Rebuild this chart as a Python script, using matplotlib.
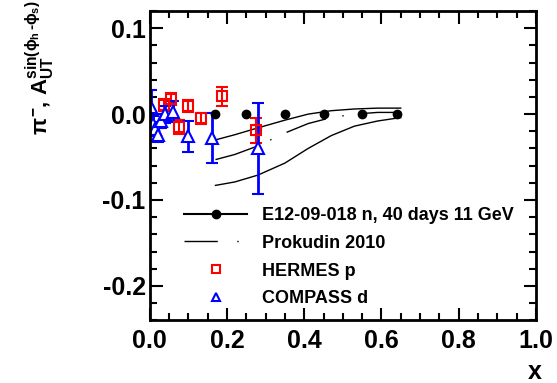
import matplotlib
matplotlib.use("Agg")
import matplotlib.pyplot as plt
from matplotlib.lines import Line2D
from matplotlib.ticker import MultipleLocator

plt.rcParams["font.family"] = ["Liberation Sans", "DejaVu Sans"]
plt.rcParams["font.weight"] = "bold"
plt.rcParams["mathtext.fontset"] = "custom"
plt.rcParams["mathtext.rm"] = "Liberation Sans:bold"
plt.rcParams["mathtext.it"] = "Liberation Sans:bold"
plt.rcParams["mathtext.bf"] = "Liberation Sans:bold"

# E12-09-018 projected points (all at zero)
e12_x = [0.17, 0.25, 0.35, 0.45, 0.55, 0.64]
e12_y = [0.0, 0.0, 0.0, 0.0, 0.0, 0.0]

# Prokudin 2010 curves: upper, central, lower
prok_x = [0.17, 0.22, 0.28, 0.35, 0.41, 0.47, 0.53, 0.59, 0.65]
prok_up = [-0.030, -0.024, -0.016, -0.007, 0.000, 0.004, 0.006, 0.007, 0.007]
prok_mid = [-0.053, -0.047, -0.037, -0.022, -0.011, -0.004, 0.000, 0.002, 0.002]
prok_low = [-0.083, -0.079, -0.071, -0.057, -0.040, -0.025, -0.014, -0.008, -0.004]

# HERMES proton
hermes_x = [0.036, 0.056, 0.076, 0.098, 0.133, 0.186, 0.275]
hermes_y = [0.011, 0.018, -0.015, 0.010, -0.005, 0.021, -0.019]
hermes_err = [0.007, 0.007, 0.008, 0.007, 0.006, 0.011, 0.015]

# COMPASS deuteron
compass_x = [0.004, 0.008, 0.013, 0.020, 0.030, 0.040, 0.060, 0.100, 0.160, 0.280]
compass_y = [0.008, -0.012, -0.017, -0.024, -0.008, 0.000, 0.003, -0.026, -0.028, -0.040]
compass_err = [0.020, 0.010, 0.008, 0.008, 0.008, 0.010, 0.012, 0.018, 0.029, 0.053]

fig = plt.figure(figsize=(5.57, 3.83), dpi=100)
ax = fig.add_axes([0.269, 0.164, 0.693, 0.807])

ax.plot(prok_x, prok_up, color="black", lw=1.0)
ax.plot(prok_x, prok_low, color="black", lw=1.0)
mid, = ax.plot(prok_x, prok_mid, color="black", lw=1.0)
mid.set_dashes([30, 12, 1, 12])

ax.plot(e12_x, e12_y, "o", color="black", ms=6, zorder=4)

ax.errorbar(hermes_x, hermes_y, yerr=hermes_err, fmt="s", ms=7, mfc="none",
            mec="red", mew=1.5, ecolor="red", elinewidth=1.5, capsize=4, capthick=1.5)
ax.errorbar(compass_x, compass_y, yerr=compass_err, fmt="^", ms=8, mfc="white",
            mec="blue", mew=1.5, ecolor="blue", elinewidth=2, capsize=4, capthick=2)

ax.set_xlim(0, 1.0)
ax.set_ylim(-0.24, 0.12)
ax.xaxis.set_major_locator(MultipleLocator(0.2))
ax.xaxis.set_minor_locator(MultipleLocator(0.05))
ax.yaxis.set_major_locator(MultipleLocator(0.1))
ax.yaxis.set_minor_locator(MultipleLocator(0.02))
ax.xaxis.set_major_formatter(lambda v, p: f"{v:.1f}")
ax.yaxis.set_major_formatter(lambda v, p: f"{v:.1f}")
ax.tick_params(which="both", direction="in", top=True, right=True, width=1.5)
ax.tick_params(which="major", length=9, labelsize=18, pad=3)
ax.tick_params(which="minor", length=5)
ax.tick_params(axis="x", which="major", pad=6)
for s in ax.spines.values():
    s.set_linewidth(2)

fig.text(535 / 557, 1 - 372 / 383, "x", fontsize=18, ha="center", va="center")
fig.text(40 / 557, 1 - 68 / 383,
         r"$\pi^{-}$, A$_{UT}^{sin(\phi_{h}\,\text{-}\phi_{s})}$",
         fontsize=16, rotation=90, ha="center", va="center")

handles = [
    Line2D([], [], color="black", lw=1.5, marker="o", ms=6),
    Line2D([], [], color="black", lw=1.0, dashes=[24, 14, 1, 40]),
    Line2D([], [], ls="none", marker="s", ms=6, mfc="none", mec="red", mew=1.5),
    Line2D([], [], ls="none", marker="^", ms=6, mfc="none", mec="blue", mew=1.5),
]
labels = ["E12-09-018 n, 40 days 11 GeV", "Prokudin 2010", "HERMES p", "COMPASS d"]
ax.legend(handles, labels, loc="upper left", bbox_to_anchor=(0.07, 0.39),
          frameon=False, fontsize=13, handlelength=3.5, handletextpad=0.8,
          labelspacing=0.6, borderaxespad=0)

fig.savefig("out.png", dpi=100)
